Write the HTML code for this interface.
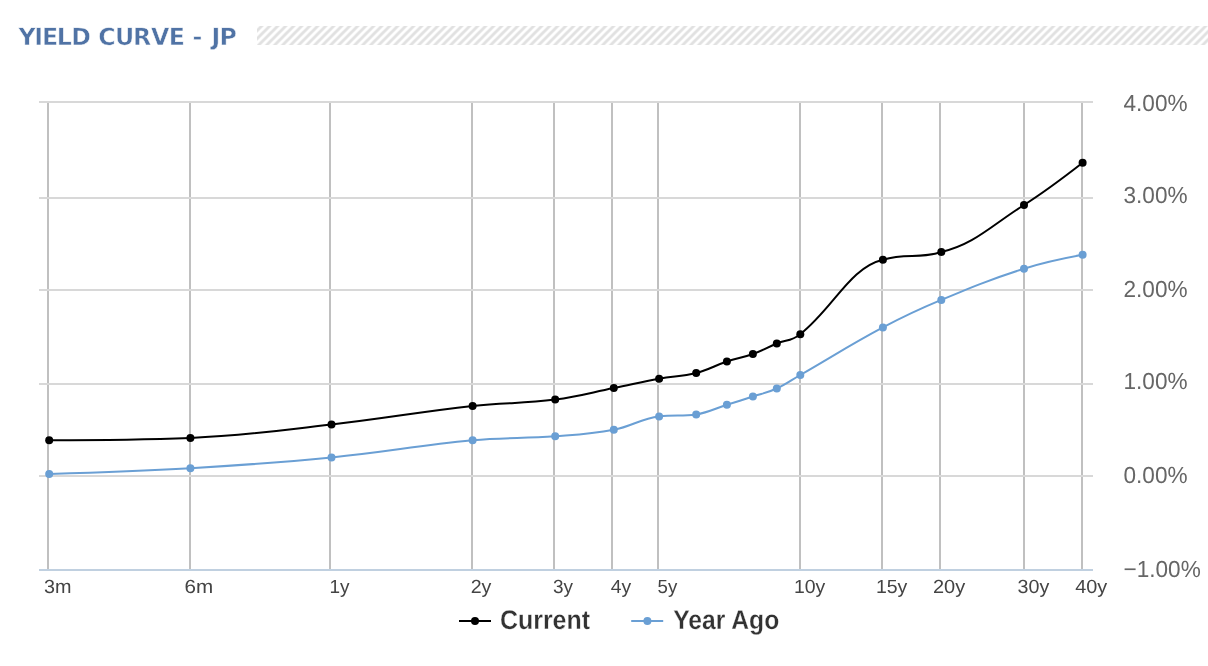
<!DOCTYPE html>
<html lang="en"><head><meta charset="utf-8"><title>Yield Curve - JP</title>
<style>
html,body{margin:0;padding:0;background:#fff;}
body{width:1208px;height:666px;overflow:hidden;position:relative;font-family:"Liberation Sans",sans-serif;}
svg{position:absolute;left:0;top:0;display:block;}
text{text-rendering:geometricPrecision;}
.ttl{font-family:"DejaVu Sans","Liberation Sans",sans-serif;font-weight:bold;font-size:23.7px;fill:#5073a5;stroke:#fff;stroke-width:0.5px;}
.xl{font-family:"Liberation Sans",sans-serif;font-size:19px;fill:#444444;}
.yl{font-family:"Liberation Sans",sans-serif;font-size:22.6px;fill:#666666;}
.lg{font-family:"Liberation Sans",sans-serif;font-size:24.8px;font-weight:bold;fill:#333333;stroke:#fff;stroke-width:0.25px;stroke-linejoin:round;}
</style></head><body>
<svg width="1208" height="666" viewBox="0 0 1208 666">
<defs><pattern id="hatch" patternUnits="userSpaceOnUse" x="0.7" y="0" width="8" height="8"><g stroke="#e1e1e1" stroke-width="2.9" fill="none"><path d="M-2 9L9 -2"/><path d="M5 10L10 5"/><path d="M-2 1L1 -2"/></g></pattern></defs>
<rect x="0" y="0" width="1208" height="666" fill="#ffffff"/>
<rect x="257" y="26" width="951" height="19" fill="url(#hatch)"/>
<text class="ttl" y="45" x="18.45 34.15 41.95 56.8 71.3 90 98.25 114.9 133.1 150.9 168.75 185 192.4 203 211.6 219.6">YIELD CURVE - JP</text>
<g fill="#c0c0c0">
<rect x="47" y="101" width="2" height="470"/>
<rect x="189" y="101" width="2" height="470"/>
<rect x="329" y="101" width="2" height="470"/>
<rect x="471" y="101" width="2" height="470"/>
<rect x="553" y="101" width="2" height="470"/>
<rect x="611" y="101" width="2" height="470"/>
<rect x="657" y="101" width="2" height="470"/>
<rect x="799" y="101" width="2" height="470"/>
<rect x="881" y="101" width="2" height="470"/>
<rect x="939" y="101" width="2" height="470"/>
<rect x="1023" y="101" width="2" height="470"/>
<rect x="1081" y="101" width="2" height="470"/>
</g>
<g fill="#d8d8d8">
<rect x="39" y="101" width="1054" height="2"/>
<rect x="39" y="197" width="1054" height="2"/>
<rect x="39" y="289" width="1054" height="2"/>
<rect x="39" y="383" width="1054" height="2"/>
<rect x="39" y="475" width="1054" height="2"/>
</g>
<rect x="39" y="569" width="1054" height="2" fill="#c0d0e0"/>
<path d="M 49.20 440.15 C 49.20 440.15 133.92 440.15 190.40 437.90 C 246.84 435.65 275.06 430.87 331.50 424.50 C 387.94 418.13 416.16 412.33 472.60 406.05 C 505.64 402.37 522.16 403.80 555.20 399.60 C 578.64 396.62 590.36 392.82 613.80 388.10 C 631.92 384.46 640.98 382.02 659.10 378.70 C 673.94 375.98 681.36 376.76 696.20 373.00 C 708.48 369.88 714.62 365.61 726.90 361.50 C 737.30 358.01 742.50 357.75 752.90 354.00 C 762.46 350.55 767.24 347.49 776.80 343.50 C 786.20 339.57 790.90 341.62 800.30 334.20 C 833.34 308.14 849.86 267.55 882.90 259.80 C 906.26 252.05 917.94 259.80 941.30 252.05 C 974.38 244.30 990.92 225.89 1024.00 205.00 C 1047.44 190.19 1082.60 162.80 1082.60 162.80" fill="none" stroke="#000000" stroke-width="2" stroke-linejoin="round" stroke-linecap="round"/>
<path d="M 49.20 473.90 C 49.20 473.90 133.92 471.50 190.40 468.20 C 246.84 464.90 275.06 462.98 331.50 457.40 C 387.94 451.82 416.16 445.62 472.60 440.30 C 505.64 437.18 522.16 438.76 555.20 436.30 C 578.64 434.56 590.36 434.27 613.80 429.80 C 631.92 426.35 640.98 418.50 659.10 416.50 C 673.94 414.50 681.36 416.50 696.20 414.50 C 708.48 412.50 714.62 408.70 726.90 404.80 C 737.30 401.50 742.50 399.90 752.90 396.50 C 762.46 393.38 767.24 392.84 776.80 388.50 C 786.20 384.24 790.90 380.41 800.30 375.00 C 833.34 355.97 849.86 345.00 882.90 327.40 C 906.26 314.96 917.94 309.62 941.30 299.90 C 974.38 286.14 990.92 279.26 1024.00 268.70 C 1047.44 261.22 1082.60 254.80 1082.60 254.80" fill="none" stroke="#6a9fd4" stroke-width="2" stroke-linejoin="round" stroke-linecap="round"/>
<g fill="#000000">
<circle cx="49.20" cy="440.15" r="4"/>
<circle cx="190.40" cy="437.90" r="4"/>
<circle cx="331.50" cy="424.50" r="4"/>
<circle cx="472.60" cy="406.05" r="4"/>
<circle cx="555.20" cy="399.60" r="4"/>
<circle cx="613.80" cy="388.10" r="4"/>
<circle cx="659.10" cy="378.70" r="4"/>
<circle cx="696.20" cy="373.00" r="4"/>
<circle cx="726.90" cy="361.50" r="4"/>
<circle cx="752.90" cy="354.00" r="4"/>
<circle cx="776.80" cy="343.50" r="4"/>
<circle cx="800.30" cy="334.20" r="4"/>
<circle cx="882.90" cy="259.80" r="4"/>
<circle cx="941.30" cy="252.05" r="4"/>
<circle cx="1024.00" cy="205.00" r="4"/>
<circle cx="1082.60" cy="162.80" r="4"/>
</g>
<g fill="#6a9fd4">
<circle cx="49.20" cy="473.90" r="4"/>
<circle cx="190.40" cy="468.20" r="4"/>
<circle cx="331.50" cy="457.40" r="4"/>
<circle cx="472.60" cy="440.30" r="4"/>
<circle cx="555.20" cy="436.30" r="4"/>
<circle cx="613.80" cy="429.80" r="4"/>
<circle cx="659.10" cy="416.50" r="4"/>
<circle cx="696.20" cy="414.50" r="4"/>
<circle cx="726.90" cy="404.80" r="4"/>
<circle cx="752.90" cy="396.50" r="4"/>
<circle cx="776.80" cy="388.50" r="4"/>
<circle cx="800.30" cy="375.00" r="4"/>
<circle cx="882.90" cy="327.40" r="4"/>
<circle cx="941.30" cy="299.90" r="4"/>
<circle cx="1024.00" cy="268.70" r="4"/>
<circle cx="1082.60" cy="254.80" r="4"/>
</g>
<text class="xl" transform="translate(43.92,593.0) scale(1.041,1)">3m</text>
<text class="xl" transform="translate(184.62,593.0) scale(1.085,1)">6m</text>
<text class="xl" transform="translate(329.40,593.0) scale(1.000,1)">1y</text>
<text class="xl" transform="translate(470.67,593.0) scale(1.032,1)">2y</text>
<text class="xl" transform="translate(553.05,593.0) scale(0.997,1)">3y</text>
<text class="xl" transform="translate(610.84,593.0) scale(1.018,1)">4y</text>
<text class="xl" transform="translate(657.56,593.0) scale(0.982,1)">5y</text>
<text class="xl" transform="translate(793.97,593.0) scale(1.021,1)">10y</text>
<text class="xl" transform="translate(875.91,593.0) scale(1.026,1)">15y</text>
<text class="xl" transform="translate(933.00,593.0) scale(1.052,1)">20y</text>
<text class="xl" transform="translate(1017.62,593.0) scale(1.035,1)">30y</text>
<text class="xl" transform="translate(1075.28,593.0) scale(1.043,1)">40y</text>
<text class="yl" transform="translate(1123.5,111) scale(1,1.03)">4.00%</text>
<text class="yl" transform="translate(1123.5,203) scale(1,1.03)">3.00%</text>
<text class="yl" transform="translate(1123.5,297) scale(1,1.03)">2.00%</text>
<text class="yl" transform="translate(1123.5,389) scale(1,1.03)">1.00%</text>
<text class="yl" transform="translate(1123.5,483) scale(1,1.03)">0.00%</text>
<text class="yl" transform="translate(1123.5,577) scale(1,1.03)">−1.00%</text>
<path d="M459 621H491" stroke="#000000" stroke-width="2" fill="none"/><circle cx="475" cy="621" r="4" fill="#000000"/>
<text class="lg" transform="translate(500,629.3) scale(1.005,1.09)">Current</text>
<path d="M631.2 621H663.2" stroke="#6a9fd4" stroke-width="2" fill="none"/><circle cx="647.4" cy="621" r="4" fill="#6a9fd4"/>
<text class="lg" transform="translate(673.2,629.3) scale(0.995,1.09)">Year Ago</text>
</svg></body></html>
